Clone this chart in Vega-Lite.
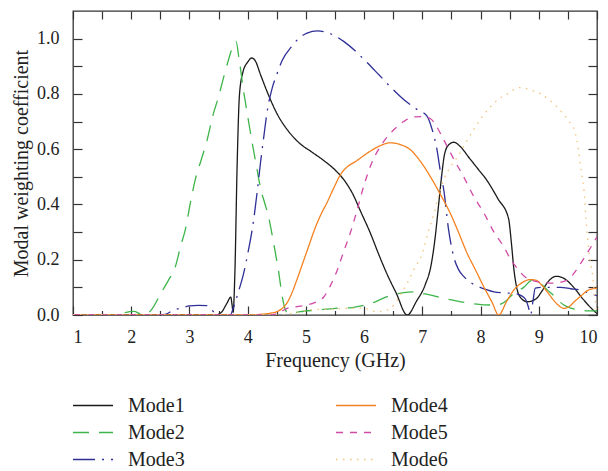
{
  "$schema": "https://vega.github.io/schema/vega-lite/v6.json",
  "width": 524,
  "height": 304,
  "autosize": "none",
  "padding": {"left": 73, "top": 11, "right": 11, "bottom": 156},
  "background": "white",
  "config": {
    "font": "Liberation Serif",
    "view": {"stroke": "#333333", "strokeWidth": 1.3},
    "axis": {"domain": false, "grid": false, "tickColor": "#333333", "tickWidth": 1.2, "labelFont": "Liberation Serif", "titleFont": "Liberation Serif", "labelColor": "#222222", "titleColor": "#222222", "labelFontSize": 18, "titleFontSize": 20, "titleFontWeight": "normal"},
    "legend": {"labelFont": "Liberation Serif", "labelFontSize": 20, "labelColor": "#222222"}
  },
  "data": {"values": [
    {"f":1,"v":0,"m":"Mode1"},{"f":2,"v":0,"m":"Mode1"},{"f":3,"v":0,"m":"Mode1"},{"f":3.45,"v":0,"m":"Mode1"},{"f":3.55,"v":0.01,"m":"Mode1"},{"f":3.65,"v":0.045,"m":"Mode1"},{"f":3.71,"v":0.065,"m":"Mode1"},{"f":3.73,"v":0.04,"m":"Mode1"},{"f":3.75,"v":0.01,"m":"Mode1"},{"f":3.78,"v":0.15,"m":"Mode1"},{"f":3.82,"v":0.55,"m":"Mode1"},{"f":3.86,"v":0.8,"m":"Mode1"},{"f":3.92,"v":0.88,"m":"Mode1"},{"f":4.0,"v":0.915,"m":"Mode1"},{"f":4.07,"v":0.93,"m":"Mode1"},{"f":4.13,"v":0.92,"m":"Mode1"},{"f":4.22,"v":0.87,"m":"Mode1"},{"f":4.35,"v":0.8,"m":"Mode1"},{"f":4.5,"v":0.73,"m":"Mode1"},{"f":4.7,"v":0.665,"m":"Mode1"},{"f":4.9,"v":0.62,"m":"Mode1"},{"f":5.1,"v":0.59,"m":"Mode1"},{"f":5.3,"v":0.56,"m":"Mode1"},{"f":5.5,"v":0.525,"m":"Mode1"},{"f":5.65,"v":0.49,"m":"Mode1"},{"f":5.8,"v":0.44,"m":"Mode1"},{"f":5.95,"v":0.37,"m":"Mode1"},{"f":6.1,"v":0.3,"m":"Mode1"},{"f":6.25,"v":0.22,"m":"Mode1"},{"f":6.4,"v":0.145,"m":"Mode1"},{"f":6.55,"v":0.08,"m":"Mode1"},{"f":6.74,"v":0.0,"m":"Mode1"},{"f":6.9,"v":0.05,"m":"Mode1"},{"f":7.05,"v":0.11,"m":"Mode1"},{"f":7.15,"v":0.18,"m":"Mode1"},{"f":7.22,"v":0.28,"m":"Mode1"},{"f":7.28,"v":0.4,"m":"Mode1"},{"f":7.33,"v":0.5,"m":"Mode1"},{"f":7.38,"v":0.58,"m":"Mode1"},{"f":7.45,"v":0.615,"m":"Mode1"},{"f":7.54,"v":0.625,"m":"Mode1"},{"f":7.65,"v":0.61,"m":"Mode1"},{"f":7.8,"v":0.57,"m":"Mode1"},{"f":7.95,"v":0.53,"m":"Mode1"},{"f":8.1,"v":0.49,"m":"Mode1"},{"f":8.3,"v":0.42,"m":"Mode1"},{"f":8.48,"v":0.35,"m":"Mode1"},{"f":8.53,"v":0.26,"m":"Mode1"},{"f":8.57,"v":0.17,"m":"Mode1"},{"f":8.62,"v":0.1,"m":"Mode1"},{"f":8.68,"v":0.065,"m":"Mode1"},{"f":8.8,"v":0.048,"m":"Mode1"},{"f":8.95,"v":0.058,"m":"Mode1"},{"f":9.05,"v":0.085,"m":"Mode1"},{"f":9.15,"v":0.118,"m":"Mode1"},{"f":9.3,"v":0.14,"m":"Mode1"},{"f":9.45,"v":0.13,"m":"Mode1"},{"f":9.6,"v":0.1,"m":"Mode1"},{"f":9.75,"v":0.06,"m":"Mode1"},{"f":9.9,"v":0.025,"m":"Mode1"},{"f":10,"v":0.005,"m":"Mode1"},

    {"f":1,"v":0,"m":"Mode2"},{"f":1.7,"v":0,"m":"Mode2"},{"f":1.8,"v":0.005,"m":"Mode2"},{"f":2.05,"v":0.013,"m":"Mode2"},{"f":2.15,"v":0.005,"m":"Mode2"},{"f":2.25,"v":0.002,"m":"Mode2"},{"f":2.35,"v":0.02,"m":"Mode2"},{"f":2.5,"v":0.075,"m":"Mode2"},{"f":2.65,"v":0.13,"m":"Mode2"},{"f":2.75,"v":0.17,"m":"Mode2"},{"f":2.85,"v":0.25,"m":"Mode2"},{"f":2.93,"v":0.31,"m":"Mode2"},{"f":3.02,"v":0.41,"m":"Mode2"},{"f":3.1,"v":0.49,"m":"Mode2"},{"f":3.2,"v":0.56,"m":"Mode2"},{"f":3.3,"v":0.63,"m":"Mode2"},{"f":3.4,"v":0.72,"m":"Mode2"},{"f":3.5,"v":0.79,"m":"Mode2"},{"f":3.6,"v":0.87,"m":"Mode2"},{"f":3.68,"v":0.93,"m":"Mode2"},{"f":3.76,"v":0.98,"m":"Mode2"},{"f":3.8,"v":0.99,"m":"Mode2"},{"f":3.85,"v":0.93,"m":"Mode2"},{"f":3.93,"v":0.81,"m":"Mode2"},{"f":4.0,"v":0.72,"m":"Mode2"},{"f":4.08,"v":0.62,"m":"Mode2"},{"f":4.15,"v":0.54,"m":"Mode2"},{"f":4.22,"v":0.46,"m":"Mode2"},{"f":4.3,"v":0.4,"m":"Mode2"},{"f":4.36,"v":0.355,"m":"Mode2"},{"f":4.42,"v":0.29,"m":"Mode2"},{"f":4.48,"v":0.22,"m":"Mode2"},{"f":4.53,"v":0.16,"m":"Mode2"},{"f":4.56,"v":0.115,"m":"Mode2"},{"f":4.6,"v":0.06,"m":"Mode2"},{"f":4.65,"v":0.018,"m":"Mode2"},{"f":4.7,"v":0.006,"m":"Mode2"},{"f":4.8,"v":0.008,"m":"Mode2"},{"f":4.9,"v":0.012,"m":"Mode2"},{"f":5.2,"v":0.018,"m":"Mode2"},{"f":5.5,"v":0.024,"m":"Mode2"},{"f":5.8,"v":0.027,"m":"Mode2"},{"f":6.0,"v":0.035,"m":"Mode2"},{"f":6.16,"v":0.045,"m":"Mode2"},{"f":6.3,"v":0.058,"m":"Mode2"},{"f":6.45,"v":0.07,"m":"Mode2"},{"f":6.65,"v":0.08,"m":"Mode2"},{"f":6.85,"v":0.084,"m":"Mode2"},{"f":7.0,"v":0.078,"m":"Mode2"},{"f":7.15,"v":0.072,"m":"Mode2"},{"f":7.37,"v":0.06,"m":"Mode2"},{"f":7.6,"v":0.05,"m":"Mode2"},{"f":7.8,"v":0.043,"m":"Mode2"},{"f":8.05,"v":0.037,"m":"Mode2"},{"f":8.28,"v":0.036,"m":"Mode2"},{"f":8.4,"v":0.045,"m":"Mode2"},{"f":8.57,"v":0.078,"m":"Mode2"},{"f":8.74,"v":0.1,"m":"Mode2"},{"f":8.89,"v":0.127,"m":"Mode2"},{"f":8.95,"v":0.128,"m":"Mode2"},{"f":9.05,"v":0.11,"m":"Mode2"},{"f":9.15,"v":0.09,"m":"Mode2"},{"f":9.26,"v":0.07,"m":"Mode2"},{"f":9.35,"v":0.05,"m":"Mode2"},{"f":9.43,"v":0.036,"m":"Mode2"},{"f":9.55,"v":0.025,"m":"Mode2"},{"f":9.7,"v":0.018,"m":"Mode2"},{"f":9.85,"v":0.015,"m":"Mode2"},{"f":10,"v":0.015,"m":"Mode2"},

    {"f":1,"v":0,"m":"Mode3"},{"f":2.5,"v":0,"m":"Mode3"},{"f":2.6,"v":0.003,"m":"Mode3"},{"f":2.7,"v":0.015,"m":"Mode3"},{"f":2.87,"v":0.026,"m":"Mode3"},{"f":3.0,"v":0.033,"m":"Mode3"},{"f":3.15,"v":0.035,"m":"Mode3"},{"f":3.3,"v":0.034,"m":"Mode3"},{"f":3.38,"v":0.02,"m":"Mode3"},{"f":3.45,"v":0.003,"m":"Mode3"},{"f":3.5,"v":0,"m":"Mode3"},{"f":3.7,"v":0,"m":"Mode3"},{"f":3.76,"v":0.03,"m":"Mode3"},{"f":3.85,"v":0.09,"m":"Mode3"},{"f":3.93,"v":0.15,"m":"Mode3"},{"f":4.0,"v":0.22,"m":"Mode3"},{"f":4.1,"v":0.34,"m":"Mode3"},{"f":4.16,"v":0.44,"m":"Mode3"},{"f":4.22,"v":0.55,"m":"Mode3"},{"f":4.28,"v":0.65,"m":"Mode3"},{"f":4.33,"v":0.73,"m":"Mode3"},{"f":4.42,"v":0.82,"m":"Mode3"},{"f":4.5,"v":0.87,"m":"Mode3"},{"f":4.59,"v":0.92,"m":"Mode3"},{"f":4.75,"v":0.97,"m":"Mode3"},{"f":4.9,"v":1.005,"m":"Mode3"},{"f":5.02,"v":1.02,"m":"Mode3"},{"f":5.2,"v":1.028,"m":"Mode3"},{"f":5.31,"v":1.025,"m":"Mode3"},{"f":5.5,"v":1.01,"m":"Mode3"},{"f":5.65,"v":0.99,"m":"Mode3"},{"f":5.85,"v":0.955,"m":"Mode3"},{"f":6.02,"v":0.92,"m":"Mode3"},{"f":6.25,"v":0.87,"m":"Mode3"},{"f":6.45,"v":0.826,"m":"Mode3"},{"f":6.68,"v":0.78,"m":"Mode3"},{"f":6.9,"v":0.745,"m":"Mode3"},{"f":7.08,"v":0.72,"m":"Mode3"},{"f":7.17,"v":0.67,"m":"Mode3"},{"f":7.25,"v":0.6,"m":"Mode3"},{"f":7.31,"v":0.52,"m":"Mode3"},{"f":7.37,"v":0.45,"m":"Mode3"},{"f":7.45,"v":0.31,"m":"Mode3"},{"f":7.54,"v":0.21,"m":"Mode3"},{"f":7.62,"v":0.165,"m":"Mode3"},{"f":7.71,"v":0.14,"m":"Mode3"},{"f":7.85,"v":0.115,"m":"Mode3"},{"f":7.94,"v":0.105,"m":"Mode3"},{"f":8.1,"v":0.092,"m":"Mode3"},{"f":8.23,"v":0.084,"m":"Mode3"},{"f":8.4,"v":0.08,"m":"Mode3"},{"f":8.57,"v":0.078,"m":"Mode3"},{"f":8.7,"v":0.07,"m":"Mode3"},{"f":8.77,"v":0.058,"m":"Mode3"},{"f":8.82,"v":0.03,"m":"Mode3"},{"f":8.86,"v":0.0,"m":"Mode3"},{"f":8.9,"v":0.05,"m":"Mode3"},{"f":8.94,"v":0.097,"m":"Mode3"},{"f":9.06,"v":0.1,"m":"Mode3"},{"f":9.2,"v":0.1,"m":"Mode3"},{"f":9.37,"v":0.1,"m":"Mode3"},{"f":9.55,"v":0.095,"m":"Mode3"},{"f":9.72,"v":0.09,"m":"Mode3"},{"f":9.85,"v":0.08,"m":"Mode3"},{"f":10,"v":0.07,"m":"Mode3"},

    {"f":1,"v":0,"m":"Mode4"},{"f":4.0,"v":0,"m":"Mode4"},{"f":4.2,"v":0.002,"m":"Mode4"},{"f":4.4,"v":0.007,"m":"Mode4"},{"f":4.5,"v":0.012,"m":"Mode4"},{"f":4.6,"v":0.025,"m":"Mode4"},{"f":4.68,"v":0.045,"m":"Mode4"},{"f":4.75,"v":0.075,"m":"Mode4"},{"f":4.85,"v":0.13,"m":"Mode4"},{"f":4.95,"v":0.19,"m":"Mode4"},{"f":5.05,"v":0.25,"m":"Mode4"},{"f":5.15,"v":0.31,"m":"Mode4"},{"f":5.25,"v":0.36,"m":"Mode4"},{"f":5.37,"v":0.41,"m":"Mode4"},{"f":5.48,"v":0.46,"m":"Mode4"},{"f":5.6,"v":0.51,"m":"Mode4"},{"f":5.71,"v":0.536,"m":"Mode4"},{"f":5.85,"v":0.555,"m":"Mode4"},{"f":6.05,"v":0.585,"m":"Mode4"},{"f":6.25,"v":0.61,"m":"Mode4"},{"f":6.45,"v":0.623,"m":"Mode4"},{"f":6.6,"v":0.618,"m":"Mode4"},{"f":6.8,"v":0.597,"m":"Mode4"},{"f":6.97,"v":0.555,"m":"Mode4"},{"f":7.14,"v":0.5,"m":"Mode4"},{"f":7.3,"v":0.44,"m":"Mode4"},{"f":7.48,"v":0.368,"m":"Mode4"},{"f":7.62,"v":0.3,"m":"Mode4"},{"f":7.77,"v":0.223,"m":"Mode4"},{"f":7.92,"v":0.16,"m":"Mode4"},{"f":8.06,"v":0.1,"m":"Mode4"},{"f":8.2,"v":0.045,"m":"Mode4"},{"f":8.31,"v":0.0,"m":"Mode4"},{"f":8.45,"v":0.05,"m":"Mode4"},{"f":8.57,"v":0.09,"m":"Mode4"},{"f":8.72,"v":0.118,"m":"Mode4"},{"f":8.85,"v":0.128,"m":"Mode4"},{"f":8.95,"v":0.126,"m":"Mode4"},{"f":9.05,"v":0.108,"m":"Mode4"},{"f":9.14,"v":0.085,"m":"Mode4"},{"f":9.25,"v":0.055,"m":"Mode4"},{"f":9.35,"v":0.033,"m":"Mode4"},{"f":9.43,"v":0.024,"m":"Mode4"},{"f":9.52,"v":0.03,"m":"Mode4"},{"f":9.62,"v":0.05,"m":"Mode4"},{"f":9.72,"v":0.068,"m":"Mode4"},{"f":9.85,"v":0.09,"m":"Mode4"},{"f":10,"v":0.097,"m":"Mode4"},

    {"f":1,"v":0,"m":"Mode5"},{"f":4.4,"v":0,"m":"Mode5"},{"f":4.55,"v":0.01,"m":"Mode5"},{"f":4.68,"v":0.024,"m":"Mode5"},{"f":4.85,"v":0.03,"m":"Mode5"},{"f":5.02,"v":0.036,"m":"Mode5"},{"f":5.15,"v":0.045,"m":"Mode5"},{"f":5.31,"v":0.066,"m":"Mode5"},{"f":5.43,"v":0.11,"m":"Mode5"},{"f":5.54,"v":0.163,"m":"Mode5"},{"f":5.65,"v":0.23,"m":"Mode5"},{"f":5.76,"v":0.295,"m":"Mode5"},{"f":5.88,"v":0.38,"m":"Mode5"},{"f":5.99,"v":0.464,"m":"Mode5"},{"f":6.13,"v":0.55,"m":"Mode5"},{"f":6.28,"v":0.61,"m":"Mode5"},{"f":6.4,"v":0.645,"m":"Mode5"},{"f":6.51,"v":0.67,"m":"Mode5"},{"f":6.68,"v":0.7,"m":"Mode5"},{"f":6.85,"v":0.717,"m":"Mode5"},{"f":7.0,"v":0.718,"m":"Mode5"},{"f":7.14,"v":0.71,"m":"Mode5"},{"f":7.25,"v":0.68,"m":"Mode5"},{"f":7.37,"v":0.633,"m":"Mode5"},{"f":7.55,"v":0.56,"m":"Mode5"},{"f":7.71,"v":0.5,"m":"Mode5"},{"f":7.88,"v":0.43,"m":"Mode5"},{"f":8.06,"v":0.368,"m":"Mode5"},{"f":8.23,"v":0.3,"m":"Mode5"},{"f":8.4,"v":0.247,"m":"Mode5"},{"f":8.52,"v":0.2,"m":"Mode5"},{"f":8.63,"v":0.169,"m":"Mode5"},{"f":8.75,"v":0.14,"m":"Mode5"},{"f":8.86,"v":0.127,"m":"Mode5"},{"f":9.05,"v":0.118,"m":"Mode5"},{"f":9.26,"v":0.115,"m":"Mode5"},{"f":9.4,"v":0.12,"m":"Mode5"},{"f":9.49,"v":0.127,"m":"Mode5"},{"f":9.6,"v":0.15,"m":"Mode5"},{"f":9.72,"v":0.187,"m":"Mode5"},{"f":9.85,"v":0.23,"m":"Mode5"},{"f":10,"v":0.283,"m":"Mode5"},

    {"f":1,"v":0,"m":"Mode6"},{"f":4.6,"v":0,"m":"Mode6"},{"f":4.8,"v":0.008,"m":"Mode6"},{"f":5.08,"v":0.018,"m":"Mode6"},{"f":5.5,"v":0.022,"m":"Mode6"},{"f":5.98,"v":0.025,"m":"Mode6"},{"f":6.22,"v":0.012,"m":"Mode6"},{"f":6.35,"v":0.015,"m":"Mode6"},{"f":6.51,"v":0.036,"m":"Mode6"},{"f":6.62,"v":0.072,"m":"Mode6"},{"f":6.74,"v":0.115,"m":"Mode6"},{"f":6.85,"v":0.163,"m":"Mode6"},{"f":7.0,"v":0.223,"m":"Mode6"},{"f":7.1,"v":0.3,"m":"Mode6"},{"f":7.2,"v":0.368,"m":"Mode6"},{"f":7.28,"v":0.43,"m":"Mode6"},{"f":7.37,"v":0.49,"m":"Mode6"},{"f":7.48,"v":0.535,"m":"Mode6"},{"f":7.6,"v":0.57,"m":"Mode6"},{"f":7.75,"v":0.625,"m":"Mode6"},{"f":7.88,"v":0.67,"m":"Mode6"},{"f":8.02,"v":0.715,"m":"Mode6"},{"f":8.17,"v":0.753,"m":"Mode6"},{"f":8.3,"v":0.78,"m":"Mode6"},{"f":8.46,"v":0.8,"m":"Mode6"},{"f":8.6,"v":0.818,"m":"Mode6"},{"f":8.69,"v":0.823,"m":"Mode6"},{"f":8.85,"v":0.815,"m":"Mode6"},{"f":9.03,"v":0.8,"m":"Mode6"},{"f":9.2,"v":0.775,"m":"Mode6"},{"f":9.37,"v":0.74,"m":"Mode6"},{"f":9.52,"v":0.7,"m":"Mode6"},{"f":9.62,"v":0.665,"m":"Mode6"},{"f":9.68,"v":0.6,"m":"Mode6"},{"f":9.73,"v":0.52,"m":"Mode6"},{"f":9.77,"v":0.464,"m":"Mode6"},{"f":9.83,"v":0.295,"m":"Mode6"},{"f":9.88,"v":0.2,"m":"Mode6"},{"f":9.92,"v":0.15,"m":"Mode6"},{"f":9.96,"v":0.07,"m":"Mode6"},{"f":10,"v":0.01,"m":"Mode6"}
  ]},
  "resolve": {"axis": {"x": "independent", "y": "independent"}},
  "layer": [
    {
      "mark": {"type": "line", "interpolate": "monotone", "strokeWidth": 1.3, "clip": true},
      "encoding": {
        "x": {"field": "f", "type": "quantitative", "scale": {"domain": [1, 10], "nice": false},
          "axis": {"orient": "bottom", "values": [1,2,3,4,5,6,7,8,9,10], "tickSize": -9, "labelPadding": 22, "title": "Frequency (GHz)", "titlePadding": 4}},
        "y": {"field": "v", "type": "quantitative", "scale": {"domain": [0, 1.1], "nice": false},
          "axis": {"orient": "left", "values": [0,0.1,0.2,0.3,0.4,0.5,0.6,0.7,0.8,0.9,1.0], "tickSize": -9, "labelPadding": 23, "labelExpr": "round(datum.value*10) % 2 == 0 ? format(datum.value, '.1f') : ''", "title": "Modal weighting coefficient", "titlePadding": 5}},
        "color": {"field": "m", "type": "nominal",
          "scale": {"domain": ["Mode1","Mode2","Mode3","Mode4","Mode5","Mode6"], "range": ["#1a1a1a","#3db54a","#2f2f98","#f58220","#d04aa6","#f3c27e"]},
          "legend": {"orient": "none", "legendX": -1, "legendY": 381, "columns": 2, "columnPadding": 150, "rowPadding": 0, "clipHeight": 27, "symbolType": "stroke", "symbolSize": 1600, "symbolStrokeWidth": 1.5, "labelOffset": 14, "title": null, "padding": 0}},
        "strokeDash": {"field": "m", "type": "nominal",
          "scale": {"domain": ["Mode1","Mode2","Mode3","Mode4","Mode5","Mode6"], "range": [[1,0],[16,10],[22,7,2,7],[1,0],[7,7],[1.5,5.5]]},
          "legend": {"orient": "none", "legendX": -1, "legendY": 381, "columns": 2, "columnPadding": 150, "rowPadding": 0, "clipHeight": 27, "symbolType": "stroke", "symbolSize": 1600, "symbolStrokeWidth": 1.5, "labelOffset": 14, "title": null, "padding": 0}}
      }
    },
    {
      "mark": {"type": "point", "opacity": 0, "size": 0},
      "encoding": {
        "x": {"field": "f", "type": "quantitative", "axis": {"orient": "top", "values": [1,1.5,2,2.5,3,3.5,4,4.5,5,5.5,6,6.5,7,7.5,8,8.5,9,9.5,10], "tickSize": -8, "labels": false, "title": null}},
        "y": {"field": "v", "type": "quantitative", "axis": {"orient": "right", "values": [0,0.1,0.2,0.3,0.4,0.5,0.6,0.7,0.8,0.9,1.0], "tickSize": -9, "labels": false, "title": null}}
      }
    },
    {
      "mark": {"type": "point", "opacity": 0, "size": 0},
      "encoding": {
        "x": {"field": "f", "type": "quantitative", "axis": {"orient": "bottom", "values": [1.5,2.5,3.5,4.5,5.5,6.5,7.5,8.5,9.5], "tickSize": -4.5, "labels": false, "title": null}},
        "y": {"field": "v", "type": "quantitative", "axis": null}
      }
    }
  ]
}
